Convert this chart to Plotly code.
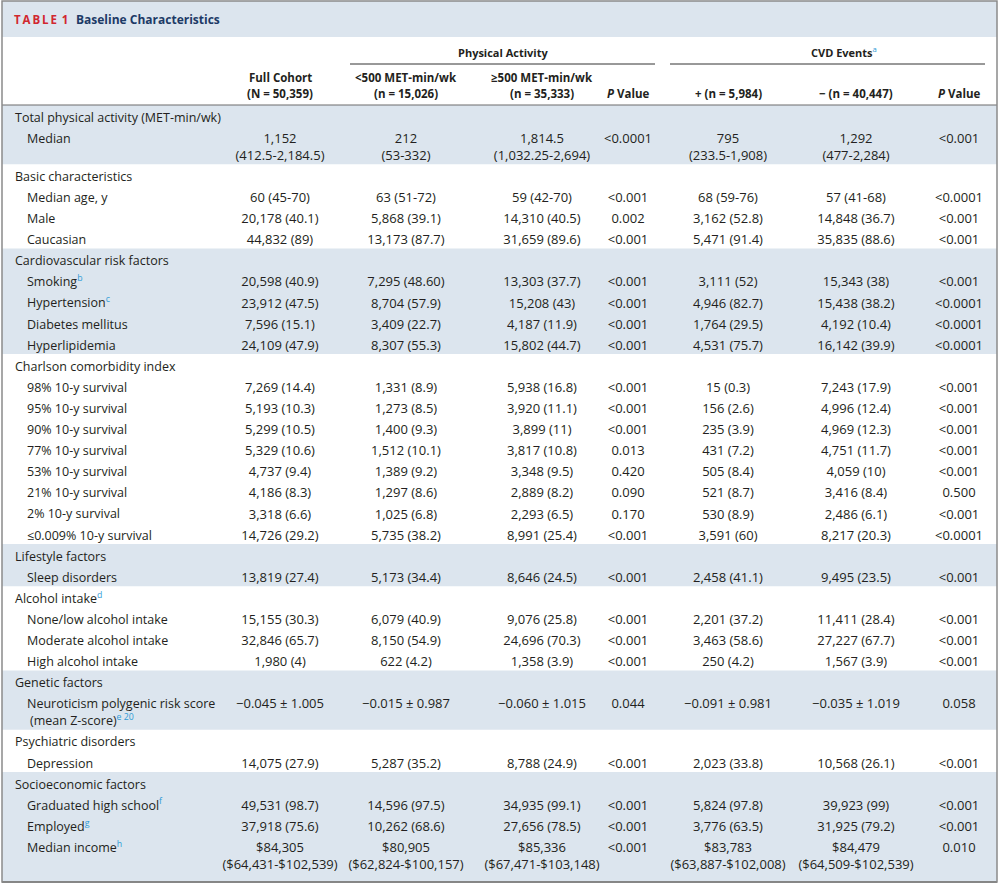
import plotly.graph_objects as go

# ---------------- data ----------------
row_labels = [
    "Total physical activity (MET-min/wk)",
    "Median",
    "Basic characteristics",
    "Median age, y",
    "Male",
    "Caucasian",
    "Cardiovascular risk factors",
    "Smoking",
    "Hypertension",
    "Diabetes mellitus",
    "Hyperlipidemia",
    "Charlson comorbidity index",
    "98% 10-y survival",
    "95% 10-y survival",
    "90% 10-y survival",
    "77% 10-y survival",
    "53% 10-y survival",
    "21% 10-y survival",
    "2% 10-y survival",
    "≤0.009% 10-y survival",
    "Lifestyle factors",
    "Sleep disorders",
    "Alcohol intake",
    "None/low alcohol intake",
    "Moderate alcohol intake",
    "High alcohol intake",
    "Genetic factors",
    "Neuroticism polygenic risk score\n(mean Z-score)",
    "Psychiatric disorders",
    "Depression",
    "Socioeconomic factors",
    "Graduated high school",
    "Employed",
    "Median income",
]
row_notes = ["", "", "", "", "", "", "", "b", "c", "", "", "", "", "", "", "", "", "", "", "",
             "", "", "d", "", "", "", "", "e 20", "", "", "", "f", "g", "h"]
row_is_group = [1, 0, 1, 0, 0, 0, 1, 0, 0, 0, 0, 1, 0, 0, 0, 0, 0, 0, 0, 0,
                1, 0, 1, 0, 0, 0, 1, 0, 1, 0, 1, 0, 0, 0]

full_cohort = ["", "1,152\n(412.5-2,184.5)", "", "60 (45-70)", "20,178 (40.1)", "44,832 (89)", "",
               "20,598 (40.9)", "23,912 (47.5)", "7,596 (15.1)", "24,109 (47.9)", "",
               "7,269 (14.4)", "5,193 (10.3)", "5,299 (10.5)", "5,329 (10.6)", "4,737 (9.4)",
               "4,186 (8.3)", "3,318 (6.6)", "14,726 (29.2)", "", "13,819 (27.4)", "",
               "15,155 (30.3)", "32,846 (65.7)", "1,980 (4)", "", "−0.045 ± 1.005", "",
               "14,075 (27.9)", "", "49,531 (98.7)", "37,918 (75.6)", "$84,305\n($64,431-$102,539)"]
pa_lt500 = ["", "212\n(53-332)", "", "63 (51-72)", "5,868 (39.1)", "13,173 (87.7)", "",
            "7,295 (48.60)", "8,704 (57.9)", "3,409 (22.7)", "8,307 (55.3)", "",
            "1,331 (8.9)", "1,273 (8.5)", "1,400 (9.3)", "1,512 (10.1)", "1,389 (9.2)",
            "1,297 (8.6)", "1,025 (6.8)", "5,735 (38.2)", "", "5,173 (34.4)", "",
            "6,079 (40.9)", "8,150 (54.9)", "622 (4.2)", "", "−0.015 ± 0.987", "",
            "5,287 (35.2)", "", "14,596 (97.5)", "10,262 (68.6)", "$80,905\n($62,824-$100,157)"]
pa_ge500 = ["", "1,814.5\n(1,032.25-2,694)", "", "59 (42-70)", "14,310 (40.5)", "31,659 (89.6)", "",
            "13,303 (37.7)", "15,208 (43)", "4,187 (11.9)", "15,802 (44.7)", "",
            "5,938 (16.8)", "3,920 (11.1)", "3,899 (11)", "3,817 (10.8)", "3,348 (9.5)",
            "2,889 (8.2)", "2,293 (6.5)", "8,991 (25.4)", "", "8,646 (24.5)", "",
            "9,076 (25.8)", "24,696 (70.3)", "1,358 (3.9)", "", "−0.060 ± 1.015", "",
            "8,788 (24.9)", "", "34,935 (99.1)", "27,656 (78.5)", "$85,336\n($67,471-$103,148)"]
p_activity = ["", "<0.0001", "", "<0.001", "0.002", "<0.001", "",
              "<0.001", "<0.001", "<0.001", "<0.001", "",
              "<0.001", "<0.001", "<0.001", "0.013", "0.420", "0.090", "0.170", "<0.001",
              "", "<0.001", "", "<0.001", "<0.001", "<0.001", "", "0.044", "",
              "<0.001", "", "<0.001", "<0.001", "<0.001"]
cvd_pos = ["", "795\n(233.5-1,908)", "", "68 (59-76)", "3,162 (52.8)", "5,471 (91.4)", "",
           "3,111 (52)", "4,946 (82.7)", "1,764 (29.5)", "4,531 (75.7)", "",
           "15 (0.3)", "156 (2.6)", "235 (3.9)", "431 (7.2)", "505 (8.4)", "521 (8.7)",
           "530 (8.9)", "3,591 (60)", "", "2,458 (41.1)", "",
           "2,201 (37.2)", "3,463 (58.6)", "250 (4.2)", "", "−0.091 ± 0.981", "",
           "2,023 (33.8)", "", "5,824 (97.8)", "3,776 (63.5)", "$83,783\n($63,887-$102,008)"]
cvd_neg = ["", "1,292\n(477-2,284)", "", "57 (41-68)", "14,848 (36.7)", "35,835 (88.6)", "",
           "15,343 (38)", "15,438 (38.2)", "4,192 (10.4)", "16,142 (39.9)", "",
           "7,243 (17.9)", "4,996 (12.4)", "4,969 (12.3)", "4,751 (11.7)", "4,059 (10)",
           "3,416 (8.4)", "2,486 (6.1)", "8,217 (20.3)", "", "9,495 (23.5)", "",
           "11,411 (28.4)", "27,227 (67.7)", "1,567 (3.9)", "", "−0.035 ± 1.019", "",
           "10,568 (26.1)", "", "39,923 (99)", "31,925 (79.2)", "$84,479\n($64,509-$102,539)"]
p_cvd = ["", "<0.001", "", "<0.0001", "<0.001", "<0.001", "",
         "<0.001", "<0.0001", "<0.0001", "<0.0001", "",
         "<0.001", "<0.001", "<0.001", "<0.001", "<0.001", "0.500", "<0.001", "<0.0001",
         "", "<0.001", "", "<0.001", "<0.001", "<0.001", "", "0.058", "",
         "<0.001", "", "<0.001", "<0.001", "0.010"]

column_headers = ["Full Cohort\n(N = 50,359)", "<500 MET-min/wk\n(n = 15,026)",
                  "≥500 MET-min/wk\n(n = 35,333)", "<i>P</i> Value",
                  "+ (n = 5,984)", "− (n = 40,447)", "<i>P</i> Value"]
span_headers = ["Physical Activity", "CVD Events"]
span_notes = ["", "a"]
title_tag = "TABLE 1"
title_text = "Baseline Characteristics"

# ---------------- styles / layout ----------------
W, H = 1000, 884
BLUE = "#dce5ee"
TXT = "#231f20"
NOTE = "#2f9bd6"
FONT = "Open Sans"
LABEL_SIZE, VALUE_SIZE, HEAD_SIZE = 12.5, 13, 11.5
col_x = [280, 406, 542, 628, 728, 856, 959]
span_ranges = [(350, 655), (670, 985)]
GROUP_X, ITEM_X, CONT_INDENT = 15, 27, 3
PITCH, CONT, Y0 = 21.1, 17.0, 118.5
BAND_TOP_OFFSET = 13.5

value_cols = [full_cohort, pa_lt500, pa_ge500, p_activity, cvd_pos, cvd_neg, p_cvd]


def esc(s):
    return s.replace("<", "&lt;")


def note(n):
    return f"<span style='color:{NOTE}'><sup>{n}</sup></span>" if n else ""


n = len(row_labels)
row_y = []
y = Y0
for i in range(n):
    row_y.append(y)
    nl = max(len(c[i].split("\n")) for c in [row_labels] + value_cols)
    y += PITCH + (nl - 1) * CONT
bottom_y = 882

fig = go.Figure()

# bands
group_starts = [i for i in range(n) if row_is_group[i]]
shapes = []
shapes.append(dict(type="rect", xref="x", yref="y", x0=2, x1=997, y0=1, y1=37,
                   fillcolor=BLUE, line_width=0, layer="below"))
for g, s in enumerate(group_starts):
    top = row_y[s] - BAND_TOP_OFFSET if g > 0 else 105
    bottom = row_y[group_starts[g + 1]] - BAND_TOP_OFFSET if g + 1 < len(group_starts) else bottom_y
    if g % 2 == 0:
        shapes.append(dict(type="rect", xref="x", yref="y", x0=2, x1=997, y0=top, y1=bottom,
                           fillcolor=BLUE, line_width=0, layer="below"))
# header rule
shapes.append(dict(type="line", xref="x", yref="y", x0=2, x1=997, y0=105, y1=105,
                   line=dict(color="#6d6d6d", width=1.2)))
# span underlines
for (a, b) in span_ranges:
    shapes.append(dict(type="line", xref="x", yref="y", x0=a, x1=b, y0=64, y1=64,
                       line=dict(color="#333333", width=1)))
# bottom rule and outer frame
shapes.append(dict(type="line", xref="x", yref="y", x0=2, x1=997, y0=bottom_y, y1=bottom_y,
                   line=dict(color="#555555", width=1.5)))
shapes.append(dict(type="rect", xref="x", yref="y", x0=2, x1=997, y0=1, y1=bottom_y,
                   line=dict(color="#8a8a8a", width=1.5), fillcolor="rgba(0,0,0,0)"))

# row labels
lx, ly, lt = [], [], []
for i in range(n):
    parts = row_labels[i].split("\n")
    for k, p in enumerate(parts):
        x0 = GROUP_X if row_is_group[i] else ITEM_X
        if k > 0:
            x0 += CONT_INDENT
        txt = esc(p) + (note(row_notes[i]) if k == len(parts) - 1 else "")
        lx.append(x0)
        ly.append(row_y[i] + k * CONT)
        lt.append(txt)
fig.add_trace(go.Scatter(x=lx, y=ly, text=lt, mode="text", textposition="middle right",
                         textfont=dict(family=FONT, size=LABEL_SIZE, color=TXT), hoverinfo="skip"))

# value columns
for j, col in enumerate(value_cols):
    vx, vy, vt = [], [], []
    for i in range(n):
        if not col[i]:
            continue
        for k, p in enumerate(col[i].split("\n")):
            vx.append(col_x[j])
            vy.append(row_y[i] + k * CONT)
            vt.append(esc(p))
    fig.add_trace(go.Scatter(x=vx, y=vy, text=vt, mode="text", textposition="middle center",
                             textfont=dict(family=FONT, size=VALUE_SIZE, color=TXT), hoverinfo="skip"))

annotations = []
# title
tag_letters = title_tag.split(" ")
tag_html = "\u2009".join(tag_letters[0]) + "\u2009 " + tag_letters[1]
annotations.append(dict(x=12, y=19, xref="x", yref="y", xanchor="left", yanchor="middle",
                        showarrow=False,
                        text=f"<b>{tag_html}</b>",
                        font=dict(family=FONT, size=11.5, color="#d1272f")))
annotations.append(dict(x=74, y=19, xref="x", yref="y", xanchor="left", yanchor="middle",
                        showarrow=False, text=f"<b>{title_text}</b>",
                        font=dict(family=FONT, size=12, color="#1d3a66")))
# spanning headers
for (a, b), t, nt in zip(span_ranges, span_headers, span_notes):
    annotations.append(dict(x=(a + b) / 2 + (16 if nt else 0), y=52, xref="x", yref="y",
                            xanchor="center", yanchor="middle", showarrow=False,
                            text=f"<b>{t}</b>" + note(nt),
                            font=dict(family=FONT, size=11, color=TXT)))
# column headers
for j, h in enumerate(column_headers):
    parts = h.split("\n")
    base = 93 - (len(parts) - 1) * 16
    for k, p in enumerate(parts):
        t = p if "<i>" in p else esc(p)
        annotations.append(dict(x=col_x[j], y=base + k * 16, xref="x", yref="y",
                                xanchor="center", yanchor="middle", showarrow=False,
                                text=f"<b>{t}</b>", font=dict(family=FONT, size=HEAD_SIZE, color=TXT)))

fig.update_layout(
    width=W, height=H, margin=dict(l=0, r=0, t=0, b=0),
    paper_bgcolor="white", plot_bgcolor="white", showlegend=False,
    xaxis=dict(range=[0, W], visible=False, fixedrange=True),
    yaxis=dict(range=[H, 0], visible=False, fixedrange=True),
    shapes=shapes, annotations=annotations, hovermode=False,
)
fig.write_html("out.html", config={"displayModeBar": False},
               post_script="document.body.style.margin='0px';document.body.style.overflow='hidden';")
